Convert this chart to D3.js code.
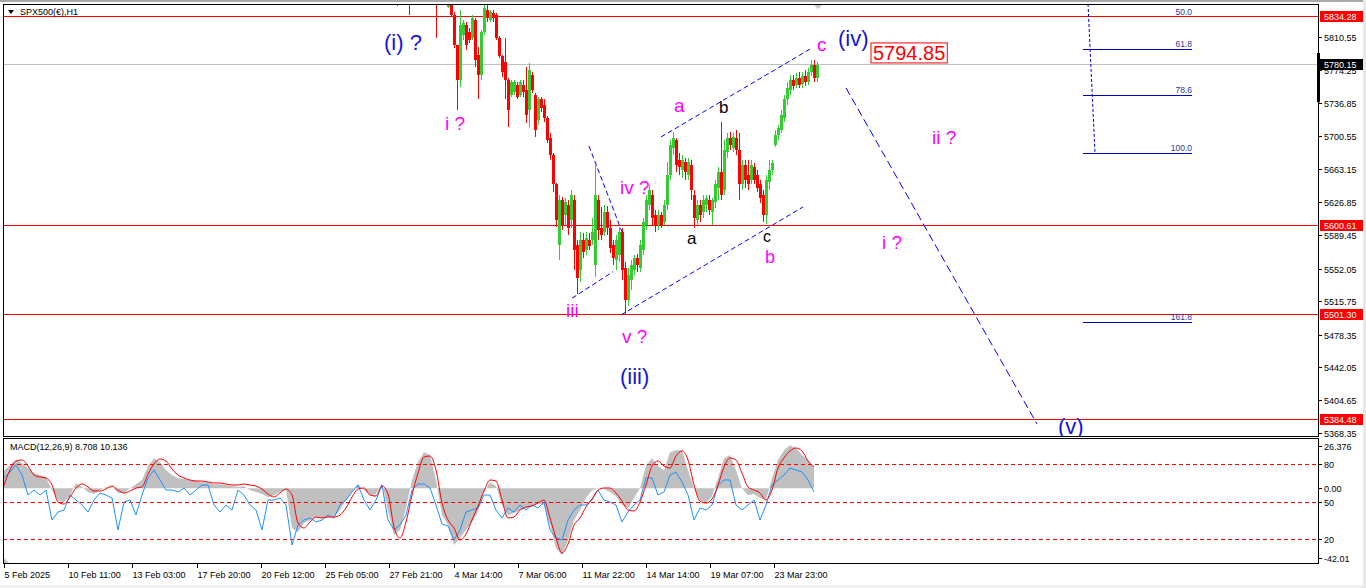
<!DOCTYPE html>
<html><head><meta charset="utf-8">
<script src="https://cdn.jsdelivr.net/npm/d3@7"></script>
<style>
html,body{margin:0;padding:0;background:#fff;overflow:hidden}
svg{display:block}
text{font-family:"Liberation Sans",Arial,sans-serif}
</style></head><body>
<svg id="c" width="1366" height="588"></svg>
<script>
// ---------------- DATA ----------------
const symbol = "SPX500(€),H1";
const candleStartBar = 392;   // H1 bar index of first candle
const candleStep = 3;         // bars per plotted candle
// [open, high, low, close]
const candles = [
[5869,5874,5845,5858],[5861,5869,5854,5866],[5866,5872,5857,5859],[5859,5866,5852,5863],
[5863,5868,5835,5854],[5856,5863,5850,5861],[5861,5869,5854,5866],[5866,5874,5858,5869],
[5869,5877,5861,5863],[5863,5870,5857,5861],[5861,5868,5854,5859],[5859,5866,5852,5857],
[5857,5863,5850,5854],[5854,5861,5810,5850],[5850,5857,5849,5854],[5854,5861,5849,5852],
[5852,5858,5847,5850],[5844,5852,5843,5849],[5847,5849,5834,5835],[5835,5839,5799,5802],
[5802,5802,5729,5763],[5763,5841,5755,5824],[5813,5830,5808,5826],[5824,5828,5796,5802],
[5816,5821,5804,5808],[5810,5835,5808,5832],[5830,5832,5777,5785],[5791,5800,5741,5768],
[5768,5819,5763,5816],[5816,5848,5813,5843],[5841,5848,5828,5832],[5830,5841,5828,5839],
[5838,5841,5828,5832],[5835,5838,5808,5810],[5810,5812,5787,5790],[5790,5791,5766,5772],
[5783,5810,5741,5763],[5763,5765,5710,5729],[5746,5763,5744,5761],[5749,5763,5746,5761],
[5757,5760,5741,5744],[5746,5763,5744,5760],[5757,5763,5744,5749],[5752,5777,5715,5724],
[5729,5782,5710,5774],[5768,5772,5748,5752],[5746,5748,5699,5707],[5718,5744,5713,5741],
[5741,5744,5727,5732],[5735,5741,5716,5720],[5720,5722,5692,5696],[5698,5704,5673,5679],
[5679,5681,5638,5646],[5646,5648,5599,5606],[5578,5634,5562,5629],[5629,5632,5595,5601],
[5612,5631,5601,5626],[5623,5629,5590,5597],[5606,5640,5597,5634],[5629,5634,5550,5573],
[5578,5584,5524,5541],[5550,5593,5537,5584],[5584,5592,5564,5571],[5573,5593,5567,5586],
[5584,5592,5573,5577],[5584,5609,5578,5593],[5556,5668,5543,5634],[5629,5634,5584,5595],
[5597,5621,5584,5590],[5593,5623,5588,5615],[5615,5622,5590,5597],[5597,5606,5569,5575],
[5578,5584,5556,5564],[5562,5590,5550,5584],[5567,5599,5559,5593],[5593,5597,5539,5550],
[5553,5559,5501,5517],[5517,5553,5510,5545],[5539,5562,5528,5556],[5550,5567,5545,5564],
[5564,5568,5548,5556],[5553,5584,5548,5578],[5573,5609,5567,5604],[5601,5634,5595,5629],
[5623,5645,5618,5640],[5634,5640,5601,5609],[5612,5618,5593,5601],[5601,5618,5595,5612],
[5612,5615,5597,5601],[5604,5629,5601,5623],[5623,5671,5618,5657],[5657,5696,5651,5690],
[5687,5705,5679,5698],[5696,5698,5660,5668],[5673,5681,5657,5665],[5662,5679,5653,5673],
[5671,5676,5651,5660],[5657,5676,5651,5671],[5668,5673,5629,5640],[5634,5640,5597,5609],
[5606,5629,5601,5623],[5623,5629,5604,5612],[5615,5634,5609,5629],[5623,5634,5615,5631],
[5629,5634,5612,5618],[5615,5631,5601,5629],[5626,5651,5620,5646],[5642,5665,5629,5660],
[5660,5716,5629,5634],[5640,5696,5634,5685],[5682,5704,5676,5698],[5698,5705,5685,5690],
[5687,5704,5682,5699],[5698,5707,5679,5685],[5685,5704,5629,5646],[5646,5673,5640,5668],
[5668,5673,5642,5651],[5657,5673,5640,5646],[5651,5673,5646,5668],[5665,5670,5646,5651],
[5657,5662,5638,5642],[5646,5651,5625,5631],[5634,5640,5604,5612],[5612,5657,5602,5651],
[5649,5673,5640,5662],[5662,5673,5657,5670],[5690,5707,5688,5701],[5701,5713,5696,5709],
[5707,5729,5704,5724],[5720,5746,5716,5741],[5741,5761,5735,5754],[5752,5768,5746,5763],
[5763,5768,5752,5756],[5757,5771,5754,5765],[5765,5772,5754,5757],[5758,5772,5754,5767],
[5767,5774,5756,5761],[5761,5776,5757,5772],[5772,5785,5767,5780],[5780,5785,5761,5765],
[5765,5783,5761,5780]
];
const priceLow = 5364.97, priceHigh = 5847.69;
const priceTicks = [5810.55,5774.25,5736.85,5700.55,5663.15,5626.85,5589.45,5552.05,5515.75,5478.35,5442.05,5404.65,5368.35];
const levelPrices = [5834.28, 5600.61, 5501.30, 5384.48];
const lastPrice = 5780.15;
const rangeMarker = [5738, 5793];
const timeTickBars = [0,64,128,193,257,321,385,450,514,578,642,706,770];
const timeTickLabels = ["5 Feb 2025","10 Feb 11:00","13 Feb 03:00","17 Feb 20:00","20 Feb 12:00","25 Feb 05:00","27 Feb 21:00","4 Mar 14:00","7 Mar 06:00","11 Mar 22:00","14 Mar 14:00","19 Mar 07:00","23 Mar 23:00"];
const lastBar = 814;

// MACD panel (sampled every macdStep bars from bar 0)
const macdStep = 6;
const macdLabel = "MACD(12,26,9) 8.708 10.136";
const macdRange = [-42.01, 26.376];
const macdHist = [10.5,13.4,16.4,14.6,11.7,8.8,7.6,6.4,-1.2,-7.0,-8.2,-4.1,2.9,0.6,-2.3,-3.5,-1.2,0.6,0.6,-2.9,
-2.9,0,2.3,4.7,12.9,17.5,15.2,10.5,7.6,5.8,5.3,4.7,4.1,3.5,3.5,2.3,2.3,1.8,1.2,0.6,
1.2,-1.2,-2.3,-3.5,-5.3,-4.1,-2.3,-1.2,-23.4,-25.7,-20.5,-18.7,-16.9,-17.5,-16.9,-16.4,-12.9,-7.0,-2.3,2.3,
-1.2,-4.1,-3.5,2.9,-12.9,-27.5,-24.5,-11.7,4.7,15.2,21.0,19.3,4.7,-15.8,-21.6,-33.3,-29.2,-24.5,-19.9,-14.0,
-2.3,3.5,1.2,-9.9,-15.8,-14.6,-12.9,-11.7,-10.5,-8.8,-9.9,-21.6,-35.1,-39.2,-30.4,-18.7,-12.9,-5.8,-1.2,0,
-0.6,-2.3,-4.7,-9.9,-11.7,-5.8,0,13.4,17.5,12.9,10.5,21.0,22.2,22.2,10.5,0,-7.0,-8.8,-4.7,5.8,
17.5,19.3,10.5,0,-4.1,-3.5,-5.8,-7.0,5.8,16.4,22.2,25.1,23.4,19.3,16.4,11.7];
// oscillator lines on 0..100 level scale
const signalLine = [63.2,75.2,82.4,83.2,78.4,71.2,69.6,68.8,63.2,49.6,48,53.6,60.8,64,61.6,58.4,58.4,60,62.4,59.2,
56.8,58.4,60.8,61.6,72,80,84,82.4,76,71.2,68.8,67.2,66.4,66.4,65.6,64.8,64.8,64,63.2,63.2,
64,63.2,62.4,60,56,53.6,56.8,60,55.2,32.8,28.8,33.6,37.6,36.8,37.6,37.6,39.2,44.8,53.6,60,
60.8,55.2,54.4,62.4,56,29.6,20.8,33.6,55.2,72.8,85.6,86.4,75.2,48.8,35.2,28.8,19.2,24,35.2,46.4,
58.4,67.2,66.4,51.2,36.8,37.6,43.2,45.6,46.4,48.8,51.2,36.8,20.8,8.8,16,31.2,36.8,45.6,52,59.2,
60.8,60.8,56.8,50.4,43.2,42.4,49.6,63.2,78.4,82.4,78.4,76.8,86.4,90.4,83.2,63.2,50.4,48.8,52,63.2,
77.6,84.8,83.2,72.8,61.6,59.2,56.8,51.2,59.2,76.8,84.8,90.4,92.8,90.4,82.4,77.6];
const mainLine = [68.8,73.6,79.2,71.2,55.2,59.2,55.2,59.2,35.2,41.6,43.2,55.2,51.2,47.2,41.6,51.2,56.8,55.2,52.8,27.2,
49.6,51.2,39.2,55.2,68.8,75.2,67.2,59.2,59.2,57.6,60.8,55.2,59.2,63.2,63.2,47.2,41.6,47.2,43.2,59.2,
55.2,47.2,43.2,27.2,51.2,51.2,52.8,47.2,15.2,31.2,35.2,36.8,33.6,35.2,39.2,36.8,47.2,51.2,57.6,63.2,
51.2,43.2,51.2,63.2,35.2,27.2,31.2,39.2,59.2,64,64,60.8,47.2,32,30.4,19.2,27.2,41.6,43.2,44.8,
55.2,55.2,43.2,36.8,44.8,41.6,47.2,43.2,47.2,44.8,49.6,27.2,20.8,19.2,35.2,43.2,47.2,47.2,51.2,59.2,
51.2,49.6,47.2,33.6,41.6,47.2,51.2,68.8,68.8,55.2,57.6,71.2,73.6,65.6,55.2,35.2,44.8,43.2,47.2,63.2,
67.2,67.2,47.2,43.2,47.2,51.2,35.2,47.2,63.2,67.2,71.2,76.8,75.2,73.6,67.2,57.6];
const oscLevels = [80, 50, 20];

// Fibonacci tool
const fibLevels = [50, 61.8, 78.6, 100, 161.8];
const fib0 = 5986, fib100 = 5681.2;
const fibBars = [1079, 1188];
const fibTrend = [[1084, 5847.7], [1091, 5681.2]];

// Trend / channel lines [[bar, price], [bar, price], dash]
const trendLines = [
  [[657, 5699.1], [808, 5798.6], "5,3"],
  [[617, 5500.2], [799, 5620.9], "5,3"],
  [[568, 5518.9], [609, 5548.6], "5,3"],
  [[585, 5689.0], [618, 5593.0], "5,3"],
  [[842, 5753.9], [1033, 5378.4], "8,4"]
];

// Wave labels: text, bar, price(baseline), colour, size
const waveLabels = [
  ["(i) ?", 380, 5796.3, "#1515d8", 22],
  ["i ?", 441, 5706.9, "#ff00ff", 19],
  ["iii", 562, 5498.0, "#ff00ff", 19],
  ["v ?", 618, 5468.9, "#ff00ff", 19],
  ["(iii)", 616, 5423.1, "#1515d8", 22],
  ["iv ?", 616, 5635.4, "#ff00ff", 19],
  ["a", 670, 5727.1, "#ff00ff", 19],
  ["b", 715, 5725.9, "#000000", 17],
  ["a", 683, 5579.5, "#000000", 17],
  ["c", 759, 5582.0, "#000000", 16],
  ["b", 761, 5558.4, "#ff00ff", 18],
  ["c", 813, 5795.2, "#ff00ff", 19],
  ["(iv)", 834, 5800.8, "#1515d8", 22],
  ["ii ?", 928, 5691.3, "#ff00ff", 19],
  ["i ?", 878, 5574.0, "#ff00ff", 19],
  ["(v)", 1054, 5367.2, "#1515d8", 22]
];
const targetLabel = ["5794.85", 867, 5785.2];

// ---------------- DRAW ----------------
const svg = d3.select("#c");
const L = 3, R = 1318, mT = 4, mB = 436, sT = 438, sB = 563;
const x = d3.scaleLinear().domain([0, R - 4]).range([4, R]);
const y = d3.scaleLinear().domain([priceLow, priceHigh]).range([mB, mT]);
const yM = d3.scaleLinear().domain(macdRange).range([560, 443]);
const yL = d3.scaleLinear().domain([0, 100]).range([564, 439]);

svg.append("rect").attr("width",1366).attr("height",588).attr("fill","#fff");
svg.append("rect").attr("x",0).attr("y",0).attr("width",1366).attr("height",2).attr("fill","#a8a8a8");
svg.append("rect").attr("x",0).attr("y",585).attr("width",1366).attr("height",3).attr("fill","#f0f0f0");
svg.append("rect").attr("x",1363).attr("y",0).attr("width",3).attr("height",588).attr("fill","#e8e8e8");

const defs = svg.append("defs");
defs.append("clipPath").attr("id","mc").append("rect").attr("x",L).attr("y",mT).attr("width",R-L).attr("height",mB-mT);
defs.append("clipPath").attr("id","sc").append("rect").attr("x",L).attr("y",sT).attr("width",R-L).attr("height",sB-sT);

const main = svg.append("g").attr("clip-path","url(#mc)");

// horizontal levels
main.selectAll(".lvl").data(levelPrices).join("line")
  .attr("x1",L).attr("x2",R).attr("y1",d=>Math.round(y(d))+0.5).attr("y2",d=>Math.round(y(d))+0.5)
  .attr("stroke","#ff0000").attr("stroke-width",1);
main.append("line").attr("x1",L).attr("x2",R)
  .attr("y1",Math.round(y(lastPrice))+0.5).attr("y2",Math.round(y(lastPrice))+0.5)
  .attr("stroke","#c0c0c0");

// candles
const cg = main.append("g").attr("shape-rendering","crispEdges");
candles.forEach((c,i)=>{
  const b = candleStartBar + i*candleStep;
  const cx = Math.round(x(b));
  const up = c[3] >= c[0];
  const col = up ? "#32cd32" : "#ff0000";
  cg.append("rect").attr("x",cx+1).attr("y",y(c[1])).attr("width",1).attr("height",Math.max(1,y(c[2])-y(c[1]))).attr("fill",col);
  const y0 = y(Math.max(c[0],c[3])), y1 = y(Math.min(c[0],c[3]));
  cg.append("rect").attr("x",cx).attr("y",y0).attr("width",3).attr("height",Math.max(1,y1-y0)).attr("fill",col);
});

// trend lines
trendLines.forEach(t=>{
  main.append("line").attr("x1",x(t[0][0])).attr("y1",y(t[0][1])).attr("x2",x(t[1][0])).attr("y2",y(t[1][1]))
    .attr("stroke","#0000ff").attr("stroke-width",1).attr("stroke-dasharray",t[2]);
});

// fib
const fibPrice = l => fib100 + (100 - l)/100*(fib0 - fib100);
main.append("line").attr("x1",x(fibTrend[0][0])).attr("y1",y(fibTrend[0][1])).attr("x2",x(fibTrend[1][0])).attr("y2",y(fibTrend[1][1]))
  .attr("stroke","#0000cc").attr("stroke-dasharray","3,2");
fibLevels.forEach(l=>{
  const py = Math.round(y(fibPrice(l)))+0.5;
  if (l !== 50) main.append("line").attr("x1",x(fibBars[0])).attr("x2",x(fibBars[1])).attr("y1",py).attr("y2",py).attr("stroke","#0000cc");
  main.append("text").attr("x",x(fibBars[1])).attr("y",py-3).attr("text-anchor","end")
    .attr("font-size",8.5).attr("fill","#3030a0").text(l.toFixed(1));
});

// wave labels
waveLabels.forEach(w=>{
  main.append("text").attr("x",x(w[1])).attr("y",y(w[2])).attr("fill",w[3]).attr("font-size",w[4]).text(w[0]);
});
const tl = main.append("text").attr("x",x(targetLabel[1])+2).attr("y",y(targetLabel[2])).attr("fill","#ff0000")
  .attr("font-size",20).text(targetLabel[0]);
const bb = tl.node().getBBox();
main.append("rect").attr("x",bb.x-2).attr("y",bb.y+1).attr("width",bb.width+4).attr("height",bb.height-2)
  .attr("fill","none").attr("stroke","#ff0000");

// shift marker
svg.append("path").attr("d",`M${x(lastBar)-5},4 L${x(lastBar)+5},4 L${x(lastBar)},9 Z`).attr("fill","#c8c8c8");

// header
svg.append("path").attr("d","M8,10 L14,10 L11,14 Z").attr("fill","#000");
svg.append("text").attr("x",20).attr("y",15).attr("font-size",9).text(symbol);

// ---------- MACD panel ----------
const sub = svg.append("g").attr("clip-path","url(#sc)");
const mx = (d,i)=>x(i*macdStep);
sub.append("path").datum(macdHist)
  .attr("d", d3.area().x(mx).y0(yM(0)).y1(d=>yM(d)))
  .attr("fill","#c0c0c0");
oscLevels.forEach(l=>{
  sub.append("line").attr("x1",L).attr("x2",R).attr("y1",Math.round(yL(l))+0.5).attr("y2",Math.round(yL(l))+0.5)
    .attr("stroke","#ff0000").attr("stroke-dasharray","4,3");
});
sub.append("path").datum(mainLine).attr("d",d3.line().x(mx).y(d=>yL(d)))
  .attr("fill","none").attr("stroke","#1e90ff").attr("stroke-width",1);
sub.append("path").datum(signalLine).attr("d",d3.line().x(mx).y(d=>yL(d)).curve(d3.curveMonotoneX))
  .attr("fill","none").attr("stroke","#ff0000").attr("stroke-width",1);
svg.append("text").attr("x",10).attr("y",450).attr("font-size",9).text(macdLabel);
svg.append("path").attr("d","M3,557 L9,563 L3,563 Z").attr("fill","#c0c0c0");

// frames
svg.append("rect").attr("x",L+0.5).attr("y",mT+0.5).attr("width",R-L).attr("height",mB-mT).attr("fill","none").attr("stroke","#000");
svg.append("rect").attr("x",L+0.5).attr("y",sT+0.5).attr("width",R-L).attr("height",sB-sT).attr("fill","none").attr("stroke","#000");

// price axis
priceTicks.forEach(p=>{
  const py = Math.round(y(p))+0.5;
  svg.append("line").attr("x1",R).attr("x2",R+4).attr("y1",py).attr("y2",py).attr("stroke","#000");
  svg.append("text").attr("x",R+6).attr("y",py+3.5).attr("font-size",9).text(p.toFixed(2));
});
levelPrices.forEach(p=>{
  const py = Math.round(y(p));
  svg.append("rect").attr("x",R+2).attr("y",py-5).attr("width",43).attr("height",11).attr("fill","#ff0000");
  svg.append("text").attr("x",R+6).attr("y",py+4).attr("font-size",9).attr("fill","#fff").text(p.toFixed(2));
});
{
  const py = Math.round(y(lastPrice));
  svg.append("rect").attr("x",R+2).attr("y",py-5).attr("width",43).attr("height",11).attr("fill","#000");
  svg.append("text").attr("x",R+6).attr("y",py+4).attr("font-size",9).attr("fill","#fff").text(lastPrice.toFixed(2));
}
svg.append("rect").attr("x",R-1).attr("y",y(rangeMarker[1])).attr("width",3).attr("height",y(rangeMarker[0])-y(rangeMarker[1])).attr("fill","#000");

// MACD axis
const mTicks = [[yM(macdRange[1])+3, macdRange[1].toFixed(3)], [yM(0), "0.00"], [yM(macdRange[0])-2, macdRange[0].toFixed(2)]];
mTicks.forEach(t=>{
  svg.append("line").attr("x1",R).attr("x2",R+4).attr("y1",Math.round(t[0])+0.5).attr("y2",Math.round(t[0])+0.5).attr("stroke","#000");
  svg.append("text").attr("x",R+6).attr("y",t[0]+3.5).attr("font-size",9).text(t[1]);
});
oscLevels.forEach(l=>{
  const py = Math.round(yL(l))+0.5;
  svg.append("line").attr("x1",R).attr("x2",R+4).attr("y1",py).attr("y2",py).attr("stroke","#000");
  svg.append("text").attr("x",R+6).attr("y",py+3.5).attr("font-size",9).text(l);
});

// time axis
timeTickBars.forEach((b,i)=>{
  const tx = Math.round(x(b))+0.5;
  svg.append("line").attr("x1",tx).attr("x2",tx).attr("y1",sB).attr("y2",sB+5).attr("stroke","#000");
  svg.append("text").attr("x",tx).attr("y",578).attr("font-size",9).text(timeTickLabels[i]);
});
</script>
</body></html>
